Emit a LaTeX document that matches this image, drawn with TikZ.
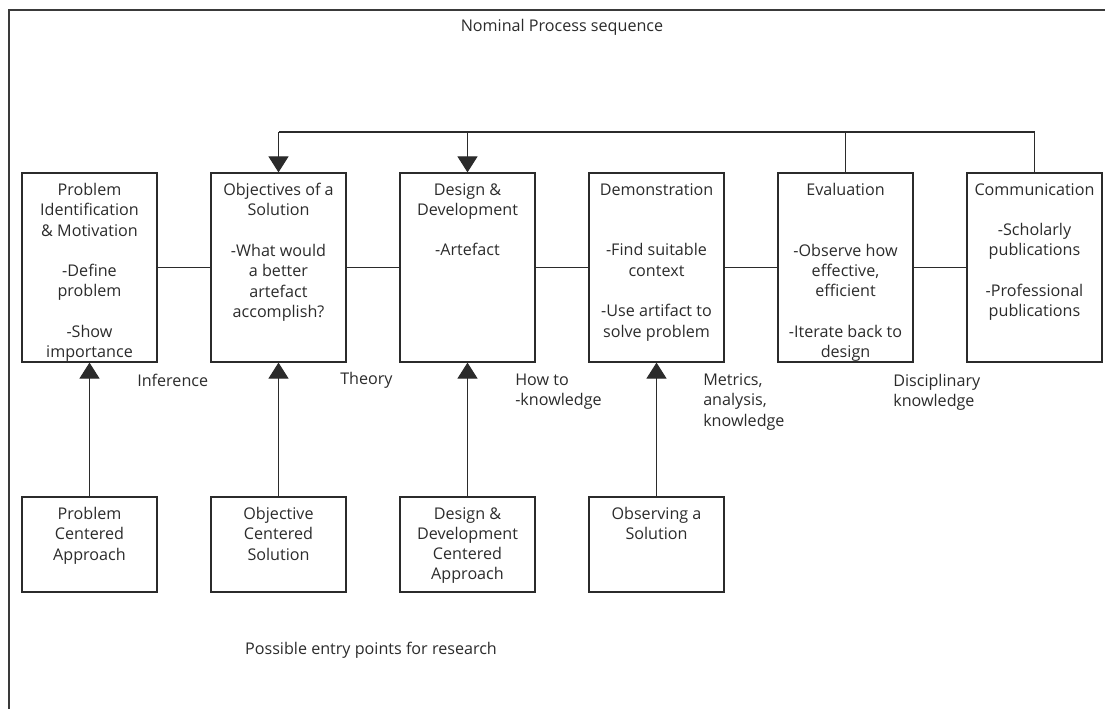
\documentclass[tikz,border=0pt]{standalone}
\usepackage{fontspec}
\setmainfont{Open Sans}
\usetikzlibrary{arrows.meta}
\definecolor{ink}{HTML}{2B2B2B}
\definecolor{frameink}{HTML}{3A3A3A}
\tikzset{
  x=0.75pt, y=-0.75pt,
  every node/.style={font=\fontsize{12.1}{15.2}\selectfont, text=ink},
  stagebox/.style={draw=ink, line width=0.9pt, minimum width=101.25pt, minimum height=141.75pt, inner sep=0pt},
  entrybox/.style={draw=ink, line width=0.9pt, minimum width=101.25pt, minimum height=71.25pt, inner sep=0pt},
  boxtext/.style={anchor=north, align=center, inner sep=0pt, yshift=-8pt},
  link/.style={draw=ink, line width=0.9pt},
  uparrow/.style={link, -{Triangle[width=15pt,length=12pt]}},
  note/.style={anchor=west, align=left, inner sep=0pt},
}
\newcommand{\gap}{\\[15.2pt]}
\begin{document}
\begin{tikzpicture}
  \useasboundingbox (0,0) rectangle (1105,709);
  % outer frame (only the left and top edges fall inside the page)
  \draw[frameink, line width=0.9pt] (9,709) -- (9,10) -- (1110,10);

  \node (title) at (562,27) {Nominal Process sequence};

  % process stages
  \node[stagebox] (p1) at (89.5,267.5) {};
  \node[stagebox] (p2) at (278.5,267.5) {};
  \node[stagebox] (p3) at (467.5,267.5) {};
  \node[stagebox] (p4) at (656.5,267.5) {};
  \node[stagebox] (p5) at (845.5,267.5) {};
  \node[stagebox] (p6) at (1034.5,267.5) {};

  \node[boxtext] (t1) at (p1.north) {Problem\\Identification\\\& Motivation\gap -Define\\problem\gap -Show\\importance};
  \node[boxtext] (t2) at (p2.north) {Objectives of a\\Solution\gap -What would\\a better\\artefact\\accomplish?};
  \node[boxtext] (t3) at (p3.north) {Design \&\\Development\gap -Artefact};
  \node[boxtext] (t4) at (p4.north) {Demonstration\\[30.4pt] -Find suitable\\context\gap -Use artifact to\\solve problem};
  \node[boxtext] (t5) at (p5.north) {Evaluation\\[30.4pt] -Observe how\\effective,\\efficient\gap -Iterate back to\\design};
  \node[boxtext] (t6) at (p6.north) {Communication\gap -Scholarly\\publications\gap -Professional\\publications};

  \draw[link] (p1.east) -- (p2.west);
  \draw[link] (p2.east) -- (p3.west);
  \draw[link] (p3.east) -- (p4.west);
  \draw[link] (p4.east) -- (p5.west);
  \draw[link] (p5.east) -- (p6.west);

  % feedback loop over the stages
  \coordinate (loop) at (0,132);
  \draw[link] (p6.north) -- (p6.north |- loop) -- (p2.north |- loop);
  \draw[link] (p5.north) -- (p5.north |- loop);
  \draw[uparrow] (p2.north |- loop) -- (p2.north);
  \draw[uparrow] (p3.north |- loop) -- (p3.north);

  % entry points
  \node[entrybox] (e1) at (89.5,544.5) {};
  \node[entrybox] (e2) at (278.5,544.5) {};
  \node[entrybox] (e3) at (467.5,544.5) {};
  \node[entrybox] (e4) at (656.5,544.5) {};

  \node[boxtext] (s1) at (e1.north) {Problem\\Centered\\Approach};
  \node[boxtext] (s2) at (e2.north) {Objective\\Centered\\Solution};
  \node[boxtext] (s3) at (e3.north) {Design \&\\Development\\Centered\\Approach};
  \node[boxtext] (s4) at (e4.north) {Observing a\\Solution};

  \draw[uparrow] (e1.north) -- (p1.south);
  \draw[uparrow] (e2.north) -- (p2.south);
  \draw[uparrow] (e3.north) -- (p3.south);
  \draw[uparrow] (e4.north) -- (p4.south);

  % knowledge produced between stages
  \node[note] (n1) at (137,380) {Inference};
  \node[note] (n2) at (340,380) {Theory};
  \node[note, anchor=north west] (n3) at (515,373.5) {How to\\-knowledge};
  \node[note, anchor=north west] (n4) at (703,373.5) {Metrics,\\analysis,\\knowledge};
  \node[note, anchor=north west] (n5) at (893,373.5) {Disciplinary\\knowledge};

  \node (entry) at (371,650) {Possible entry points for research};
\end{tikzpicture}
\end{document}
